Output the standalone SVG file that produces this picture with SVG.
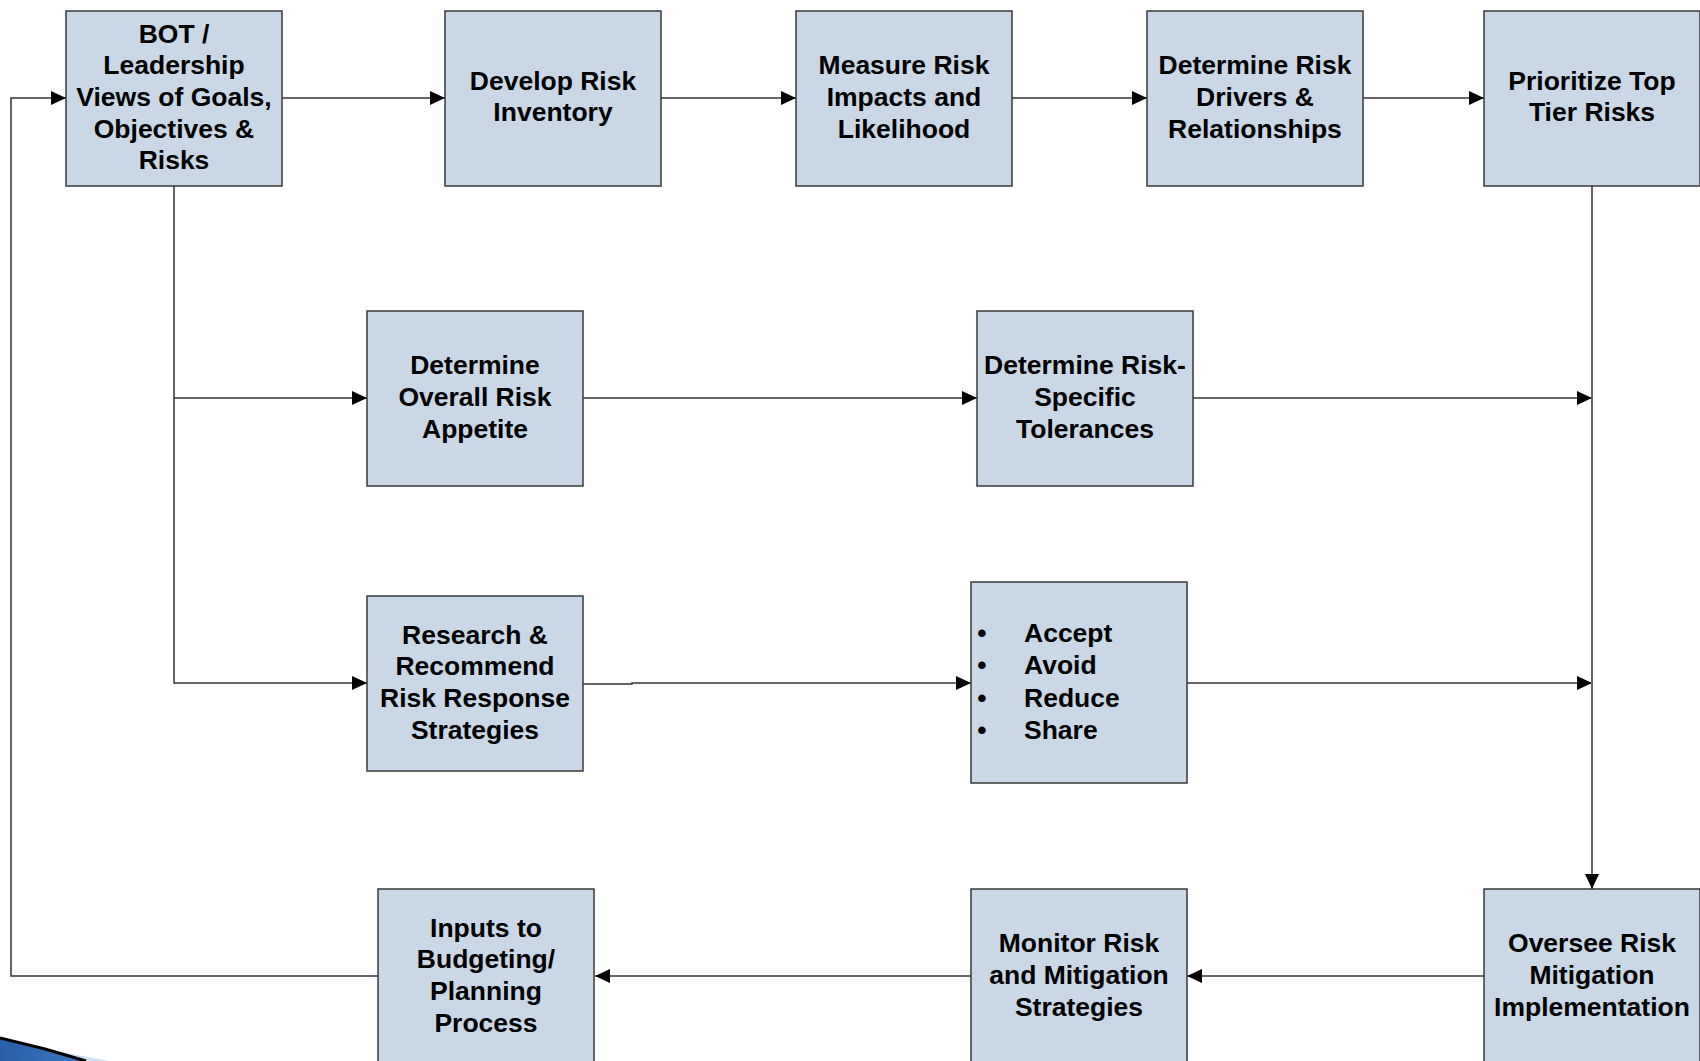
<svg xmlns="http://www.w3.org/2000/svg" width="1700" height="1061" viewBox="0 0 1700 1061">
<defs>
<style>
.box{fill:#c9d7e6;stroke:#3a3a3a;stroke-width:1.5}
.t{font-family:"Liberation Sans",Arial,sans-serif;font-weight:bold;font-size:26.5px;fill:#000;text-anchor:middle}
.tl{font-family:"Liberation Sans",Arial,sans-serif;font-weight:bold;font-size:26.5px;fill:#000}
.c{fill:none;stroke:#333;stroke-width:1.5}
.cg{fill:none;stroke:#666;stroke-width:2}
</style>
<marker id="ah" viewBox="0 0 15 14" refX="15" refY="7" markerWidth="15" markerHeight="14" markerUnits="userSpaceOnUse" orient="auto">
<path d="M0,0 L15,7 L0,14 z" fill="#000"/>
</marker>
<linearGradient id="sw" x1="0" y1="0" x2="1" y2="0">
<stop offset="0" stop-color="#2a5ea8"/>
<stop offset="1" stop-color="#3b78c4"/>
</linearGradient>
</defs>

<g id="swoosh">
<polygon points="0,1038 45,1049 110,1061 0,1061" fill="#cfe0f2"/>
<polygon points="0,1039 45,1050 86,1061 0,1061" fill="url(#sw)"/>
<path d="M0,1038 L45,1049 L86,1061" fill="none" stroke="#000" stroke-width="3"/>
</g>

<g id="connectors">
<polyline class="c" points="378,976 11,976 11,98 66,98" marker-end="url(#ah)"/>
<line class="c" x1="282" y1="98" x2="445" y2="98" marker-end="url(#ah)"/>
<line class="c" x1="661" y1="98" x2="796" y2="98" marker-end="url(#ah)"/>
<line class="c" x1="1012" y1="98" x2="1147" y2="98" marker-end="url(#ah)"/>
<line class="c" x1="1363" y1="98" x2="1484" y2="98" marker-end="url(#ah)"/>
<polyline class="c" points="174,186 174,683 367,683" marker-end="url(#ah)"/>
<line class="c" x1="174" y1="398" x2="367" y2="398" marker-end="url(#ah)"/>
<line class="c" x1="583" y1="398" x2="977" y2="398" marker-end="url(#ah)"/>
<line class="c" x1="1193" y1="398" x2="1592" y2="398" marker-end="url(#ah)"/>
<polyline class="c" points="583,684 632,684 632,683 971,683" marker-end="url(#ah)"/>
<line class="c" x1="1187" y1="683" x2="1592" y2="683" marker-end="url(#ah)"/>
<line class="cg" x1="1592" y1="186" x2="1592" y2="889" marker-end="url(#ah)"/>
<line class="c" x1="1484" y1="976" x2="1187" y2="976" marker-end="url(#ah)"/>
<line class="c" x1="971" y1="976" x2="595" y2="976" marker-end="url(#ah)"/>
</g>

<g id="n-bot">
<rect class="box" x="66" y="11" width="216" height="175"/>
<text class="t" x="174" y="42.6">BOT /</text>
<text class="t" x="174" y="74.3">Leadership</text>
<text class="t" x="174" y="106">Views of Goals,</text>
<text class="t" x="174" y="137.7">Objectives &amp;</text>
<text class="t" x="174" y="169.4">Risks</text>
</g>

<g id="n-develop">
<rect class="box" x="445" y="11" width="216" height="175"/>
<text class="t" x="553" y="89.5">Develop Risk</text>
<text class="t" x="553" y="121.2">Inventory</text>
</g>

<g id="n-measure">
<rect class="box" x="796" y="11" width="216" height="175"/>
<text class="t" x="904" y="74.3">Measure Risk</text>
<text class="t" x="904" y="106">Impacts and</text>
<text class="t" x="904" y="137.7">Likelihood</text>
</g>

<g id="n-drivers">
<rect class="box" x="1147" y="11" width="216" height="175"/>
<text class="t" x="1255" y="74.3">Determine Risk</text>
<text class="t" x="1255" y="106">Drivers &amp;</text>
<text class="t" x="1255" y="137.7">Relationships</text>
</g>

<g id="n-prioritize">
<rect class="box" x="1484" y="11" width="216" height="175"/>
<text class="t" x="1592" y="89.5">Prioritize Top</text>
<text class="t" x="1592" y="121.2">Tier Risks</text>
</g>

<g id="n-appetite">
<rect class="box" x="367" y="311" width="216" height="175"/>
<text class="t" x="475" y="374.3">Determine</text>
<text class="t" x="475" y="406">Overall Risk</text>
<text class="t" x="475" y="437.7">Appetite</text>
</g>

<g id="n-tolerances">
<rect class="box" x="977" y="311" width="216" height="175"/>
<text class="t" x="1085" y="374.3">Determine Risk-</text>
<text class="t" x="1085" y="406">Specific</text>
<text class="t" x="1085" y="437.7">Tolerances</text>
</g>

<g id="n-research">
<rect class="box" x="367" y="596" width="216" height="175"/>
<text class="t" x="475" y="643.5">Research &amp;</text>
<text class="t" x="475" y="675.2">Recommend</text>
<text class="t" x="475" y="706.9">Risk Response</text>
<text class="t" x="475" y="738.6">Strategies</text>
</g>

<g id="n-responses">
<rect class="box" x="971" y="582" width="216" height="201"/>
<text class="t" x="982" y="642">•</text>
<text class="t" x="982" y="674.3">•</text>
<text class="t" x="982" y="706.6">•</text>
<text class="t" x="982" y="738.9">•</text>
<text class="tl" x="1024" y="642">Accept</text>
<text class="tl" x="1024" y="674.3">Avoid</text>
<text class="tl" x="1024" y="706.6">Reduce</text>
<text class="tl" x="1024" y="738.9">Share</text>
</g>

<g id="n-inputs">
<rect class="box" x="378" y="889" width="216" height="180"/>
<text class="t" x="486" y="936.5">Inputs to</text>
<text class="t" x="486" y="968.2">Budgeting/</text>
<text class="t" x="486" y="999.9">Planning</text>
<text class="t" x="486" y="1031.6">Process</text>
</g>

<g id="n-monitor">
<rect class="box" x="971" y="889" width="216" height="180"/>
<text class="t" x="1079" y="952.2">Monitor Risk</text>
<text class="t" x="1079" y="983.9">and Mitigation</text>
<text class="t" x="1079" y="1015.6">Strategies</text>
</g>

<g id="n-oversee">
<rect class="box" x="1484" y="889" width="216" height="180"/>
<text class="t" x="1592" y="952.2">Oversee Risk</text>
<text class="t" x="1592" y="983.9">Mitigation</text>
<text class="t" x="1592" y="1015.6">Implementation</text>
</g>
</svg>
